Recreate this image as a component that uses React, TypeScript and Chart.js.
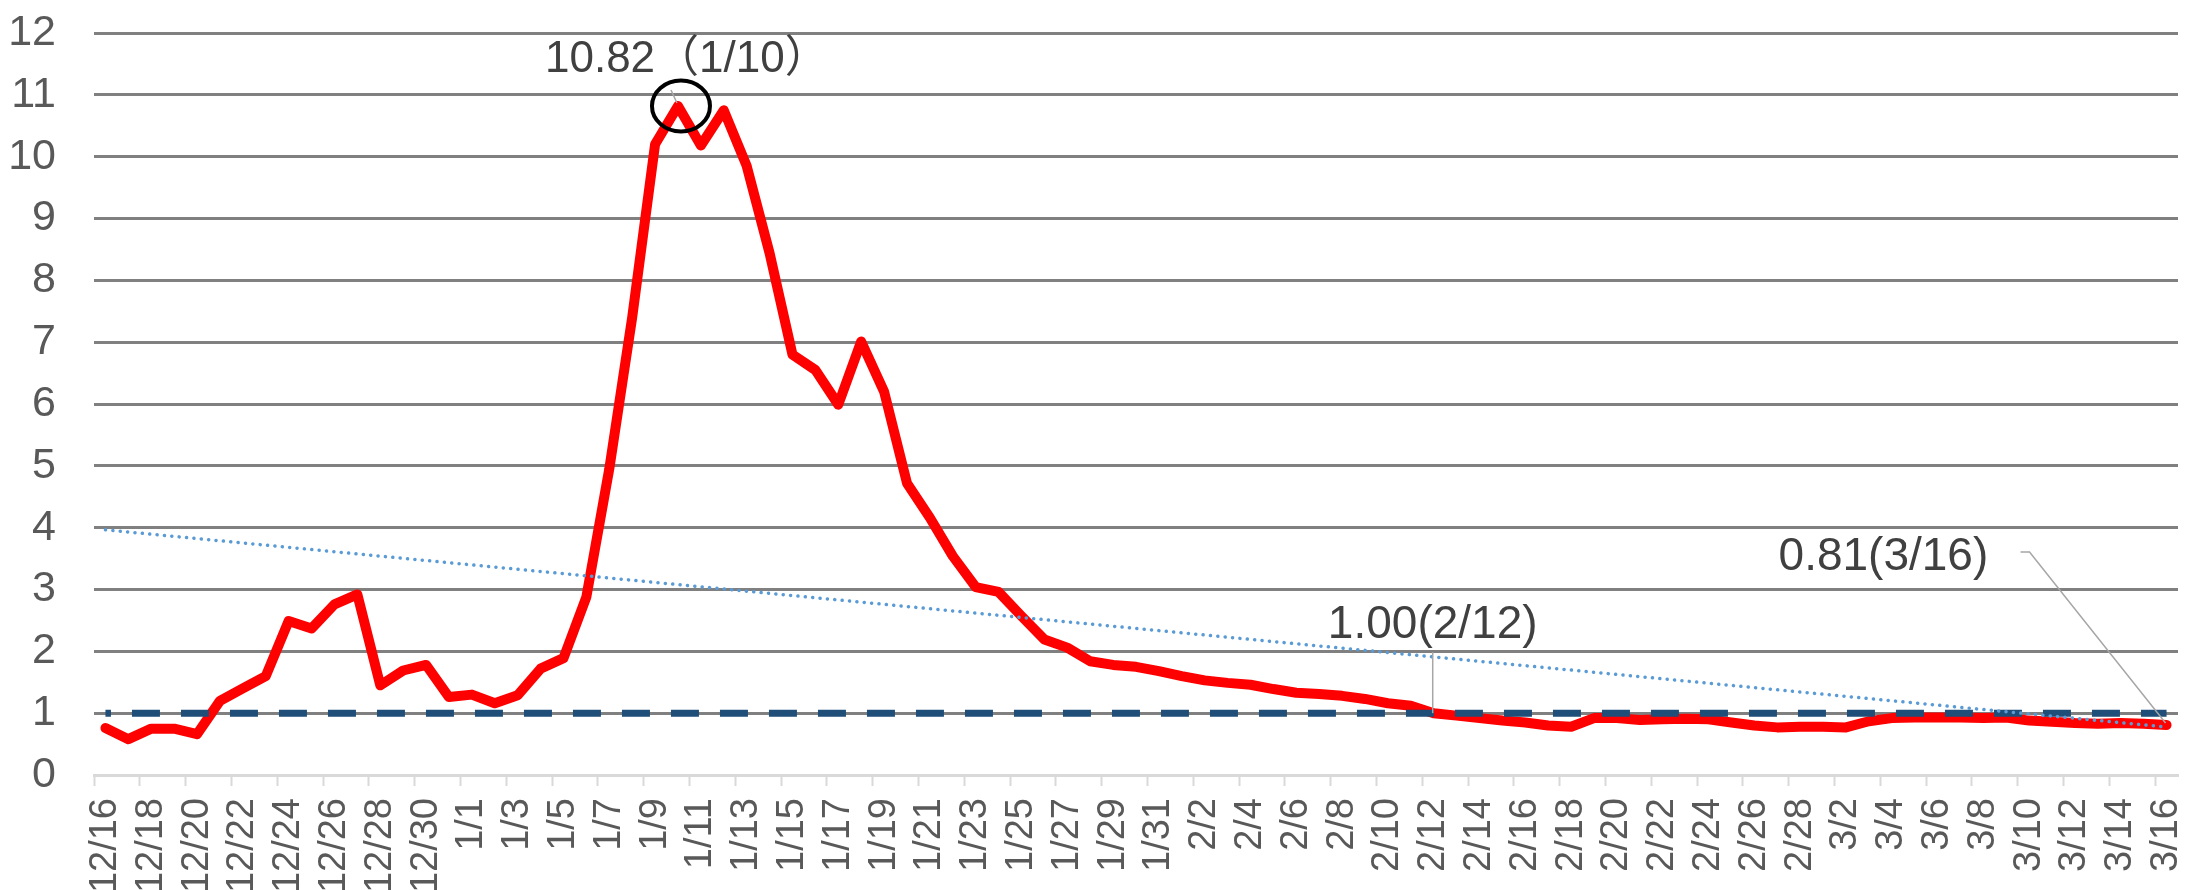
import React, { useEffect, useRef } from "react";
import { Chart, registerables } from "chart.js";

Chart.register(...registerables);

// ---- Data ----
const categories = [
  "12/16", "12/17", "12/18", "12/19", "12/20", "12/21", "12/22", "12/23", "12/24", "12/25", "12/26", "12/27", "12/28", "12/29", "12/30", "12/31",
  "1/1", "1/2", "1/3", "1/4", "1/5", "1/6", "1/7", "1/8", "1/9", "1/10", "1/11", "1/12", "1/13", "1/14", "1/15", "1/16", "1/17", "1/18", "1/19", "1/20",
  "1/21", "1/22", "1/23", "1/24", "1/25", "1/26", "1/27", "1/28", "1/29", "1/30", "1/31",
  "2/1", "2/2", "2/3", "2/4", "2/5", "2/6", "2/7", "2/8", "2/9", "2/10", "2/11", "2/12", "2/13", "2/14", "2/15", "2/16", "2/17", "2/18", "2/19", "2/20",
  "2/21", "2/22", "2/23", "2/24", "2/25", "2/26", "2/27", "2/28",
  "3/1", "3/2", "3/3", "3/4", "3/5", "3/6", "3/7", "3/8", "3/9", "3/10", "3/11", "3/12", "3/13", "3/14", "3/15", "3/16",
];

const decValues = [0.76, 0.58, 0.75, 0.75, 0.66, 1.2, 1.4, 1.6, 2.49, 2.37, 2.76, 2.92, 1.45, 1.69, 1.78, 1.26];
const janValues = [
  1.3, 1.16, 1.29, 1.72, 1.89, 2.88, 4.95, 7.4, 10.2, 10.82, 10.18, 10.75, 9.85, 8.44, 6.8, 6.55, 5.99, 7.01, 6.2, 4.72,
  4.16, 3.54, 3.04, 2.96, 2.57, 2.19, 2.06, 1.84, 1.78, 1.75, 1.68,
];
const febValues = [
  1.6, 1.53, 1.49, 1.46, 1.39, 1.33, 1.31, 1.28, 1.23, 1.16, 1.12, 1.0, 0.96, 0.92, 0.88, 0.85, 0.8, 0.78, 0.92, 0.92,
  0.89, 0.9, 0.91, 0.9, 0.85, 0.8, 0.77, 0.78,
];
const marValues = [0.78, 0.77, 0.87, 0.92, 0.93, 0.93, 0.93, 0.92, 0.93, 0.88, 0.86, 0.84, 0.83, 0.84, 0.83, 0.81];

const rtValues = [...decValues, ...janValues, ...febValues, ...marValues];

const thresholdLevel = 1;
const yMin = 0;
const yMax = 12;
const yStep = 1;

const peakIndex = 25; // 1/10
const crossIndex = 58; // 2/12
const lastIndex = 90; // 3/16
const peakLabel = "10.82（1/10）";
const crossLabel = "1.00(2/12)";
const lastLabel = "0.81(3/16)";

// Linear (least squares) trend line of the series, as the spreadsheet trendline
function linearTrend(values: number[]): number[] {
  const n = values.length;
  let sx = 0, sy = 0, sxx = 0, sxy = 0;
  values.forEach((v, i) => {
    sx += i; sy += v; sxx += i * i; sxy += i * v;
  });
  const slope = (n * sxy - sx * sy) / (n * sxx - sx * sx);
  const intercept = (sy - slope * sx) / n;
  return values.map((_, i) => intercept + slope * i);
}

const FONT = "'Liberation Sans', Arial, 'Noto Sans CJK JP', sans-serif";

const annotationPlugin = {
  id: "rtAnnotations",
  afterDatasetsDraw(chart: any) {
    const ctx = chart.ctx as CanvasRenderingContext2D;
    const meta = chart.getDatasetMeta(0);
    const pk = meta.data[peakIndex];
    const cr = meta.data[crossIndex];
    const ls = meta.data[lastIndex];
    if (!pk || !cr || !ls) return;
    ctx.save();

    // leader lines
    ctx.strokeStyle = "#A6A6A6";
    ctx.lineWidth = 1.5;
    ctx.beginPath();
    ctx.moveTo(pk.x - 7, pk.y - 16);
    ctx.lineTo(pk.x - 1, pk.y - 3);
    ctx.stroke();

    ctx.beginPath();
    ctx.moveTo(cr.x - 1, cr.y - 61);
    ctx.lineTo(cr.x - 1, cr.y);
    ctx.stroke();

    ctx.beginPath();
    ctx.moveTo(ls.x - 146, ls.y - 173);
    ctx.lineTo(ls.x - 137, ls.y - 173);
    ctx.lineTo(ls.x - 1, ls.y - 2);
    ctx.stroke();

    // circle around the peak
    ctx.strokeStyle = "#000000";
    ctx.lineWidth = 4;
    ctx.beginPath();
    ctx.ellipse(pk.x + 3, pk.y, 29, 25.5, 0, 0, Math.PI * 2);
    ctx.stroke();

    // labels
    ctx.fillStyle = "#404040";
    ctx.textBaseline = "alphabetic";
    ctx.textAlign = "left";
    ctx.font = `44px ${FONT}`;
    ctx.fillText(peakLabel, pk.x - 133, pk.y - 34);

    ctx.font = `46px ${FONT}`;
    ctx.textAlign = "center";
    ctx.fillText(crossLabel, cr.x - 1, cr.y - 75);

    ctx.textAlign = "left";
    ctx.fillText(lastLabel, ls.x - 388, ls.y - 155);

    ctx.restore();
  },
};

export default function App() {
  const canvasRef = useRef<HTMLCanvasElement | null>(null);

  useEffect(() => {
    document.body.style.margin = "0";
    const canvas = canvasRef.current;
    if (!canvas) return;

    const trendValues = linearTrend(rtValues);
    const thresholdValues = categories.map(() => thresholdLevel);

    const chart = new Chart(canvas, {
      type: "line",
      data: {
        labels: categories,
        datasets: [
          {
            label: "実効再生産数",
            data: rtValues,
            borderColor: "#FF0000",
            borderWidth: 10,
            borderJoinStyle: "round",
            borderCapStyle: "round",
            pointRadius: 0,
            tension: 0,
            fill: false,
            order: 3,
          },
          {
            label: "基準線",
            data: thresholdValues,
            borderColor: "#1F4E79",
            borderWidth: 7,
            borderDash: [28, 21],
            borderDashOffset: 22.5,
            borderCapStyle: "butt",
            pointRadius: 0,
            tension: 0,
            fill: false,
            order: 2,
          },
          {
            label: "線形近似",
            data: trendValues,
            borderColor: "#5B9BD5",
            borderWidth: 3.5,
            borderDash: [0.1, 7.3],
            borderCapStyle: "round",
            pointRadius: 0,
            tension: 0,
            fill: false,
            order: 1,
          },
        ],
      },
      options: {
        responsive: false,
        animation: false,
        events: [],
        layout: { padding: { top: 33, right: 8, bottom: 0, left: 0 } },
        plugins: {
          legend: { display: false },
          tooltip: { enabled: false },
          title: { display: false },
        },
        scales: {
          x: {
            type: "category",
            offset: true,
            grid: {
              display: true,
              offset: true,
              drawOnChartArea: false,
              drawTicks: true,
              tickLength: 11,
              tickWidth: 2,
              tickColor: (c: any) => (c.index % 2 === 0 ? "#D9D9D9" : "rgba(0,0,0,0)"),
            },
            border: { display: true, color: "#D9D9D9", width: 3 },
            ticks: {
              autoSkip: false,
              minRotation: 90,
              maxRotation: 90,
              padding: 12,
              color: "#595959",
              font: { family: FONT, size: 38 },
              callback: (_v: any, i: number) => (i % 2 === 0 ? categories[i] : ""),
            },
            afterFit: (scale: any) => {
              scale.height = 115;
              scale.paddingLeft = 0;
              scale.paddingRight = 0;
            },
          },
          y: {
            min: yMin,
            max: yMax,
            grid: {
              drawTicks: false,
              lineWidth: 3,
              color: (c: any) => (c.tick && c.tick.value === 0 ? "rgba(0,0,0,0)" : "#808080"),
            },
            border: { display: false },
            ticks: {
              stepSize: yStep,
              padding: 38,
              color: "#595959",
              font: { family: FONT, size: 43 },
            },
            afterFit: (scale: any) => {
              scale.width = 94;
              scale.paddingTop = 0;
              scale.paddingBottom = 0;
            },
          },
        },
      },
      plugins: [annotationPlugin],
    });

    return () => {
      chart.destroy();
    };
  }, []);

  return (
    <div style={{ width: 2186, height: 890, background: "#ffffff" }}>
      <canvas ref={canvasRef} width={2186} height={890} style={{ display: "block" }} />
    </div>
  );
}
